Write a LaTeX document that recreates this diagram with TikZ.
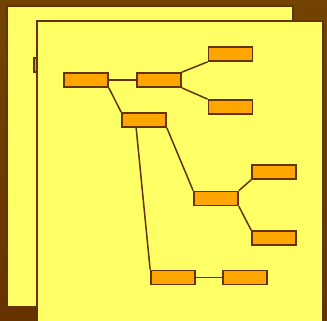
\documentclass[tikz,border=0pt]{standalone}
\usetikzlibrary{positioning}

\definecolor{sheet}{HTML}{FFFF66}
\definecolor{box}{HTML}{FFA500}
\definecolor{rim}{HTML}{663300}

\tikzset{
  leaf/.style={rectangle, draw=rim, fill=box, line width=1.7pt,
    minimum width=44pt, minimum height=14pt, inner sep=0pt},
  link/.style={draw=rim, line width=1.5pt},
  page/.style={fill=sheet, draw=rim, line width=1.5pt}
}

\begin{document}
\begin{tikzpicture}[x=1pt, y=-1pt]
  \useasboundingbox (0,0) rectangle (327,321);
  \shade[top color=rim!60!box!70!black, bottom color=rim] (0,0) rectangle (327,321);

  % back sheet
  \draw[page] (7,6) rectangle (293,307);
  \node[leaf] (hidden) at (56,65) {};

  % front sheet
  \draw[page] (37,21) rectangle (323,323);

  \node[leaf] (root) at (86,80) {};
  \node[leaf] (mid)  at (159,80) {};
  \node[leaf] (up)   at (230.5,54) {};
  \node[leaf] (down) at (230.5,107) {};
  \node[leaf] (sub)  at (144,120) {};
  \node[leaf] (fork) at (216,198.5) {};
  \node[leaf] (fup)  at (274,172) {};
  \node[leaf] (fdown) at (274,238) {};
  \node[leaf] (low)  at (173,277.5) {};
  \node[leaf] (end)  at (245,277.5) {};

  \draw[link] (root.east) -- (mid.west);
  \draw[link] (root.south east) -- (sub.north west);
  \draw[link] (mid.north east) -- (up.south west);
  \draw[link] (mid.south east) -- (down.north west);
  \draw[link] (sub.south east) -- (fork.north west);
  \draw[link] ([xshift=15pt]sub.south west) -- (low.north west);
  \draw[link] (fork.north east) -- (fup.south west);
  \draw[link] (fork.south east) -- (fdown.north west);
  \draw[link] (low.east) -- (end.west);
\end{tikzpicture}
\end{document}
